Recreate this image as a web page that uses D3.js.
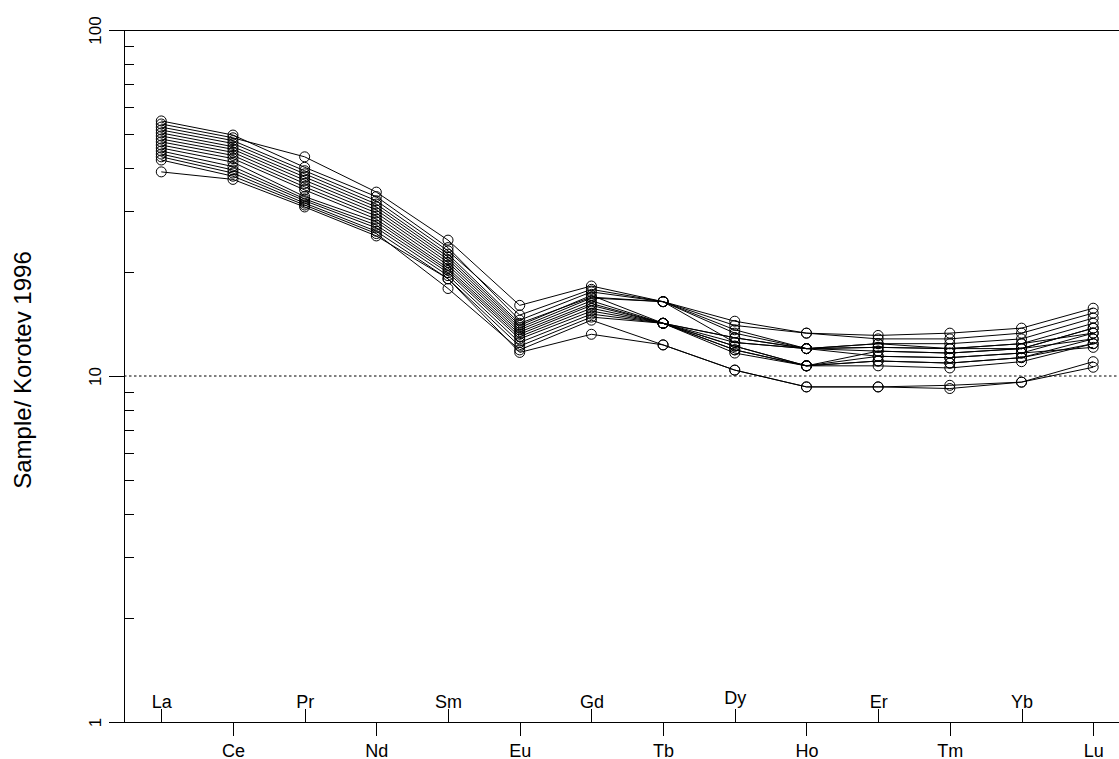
<!DOCTYPE html>
<html>
<head>
<meta charset="utf-8">
<script src="https://cdn.jsdelivr.net/npm/d3@7"></script>
<style>
    body { margin: 0; background: #fff; }
    text { font-family: "Liberation Sans", Arial, sans-serif; fill: #000; }
</style>
</head>
<body>
<div id="chart"></div>
<script>
// REE elements along the x axis
const ree = ['La', 'Ce', 'Pr', 'Nd', 'Sm', 'Eu', 'Gd', 'Tb', 'Dy', 'Ho', 'Er', 'Tm', 'Yb', 'Lu'];

// normalised values, one row per sample
const samples = [
    [54.6, 49.7, 40.1, 33.0, 23.5, 14.5, 17.5, 16.4, 14.4, 13.3, 13.1, 13.3, 13.75, 15.7],
    [53.5, 48.8, 43.0, 34.0, 24.7, 16.0, 18.2, 16.4, 14.0, 13.3, 12.8, 12.8, 13.3, 15.2],
    [52.4, 47.9, 39.2, 32.1, 23.0, 15.0, 17.8, 16.4, 13.6, 12.0, 12.4, 12.4, 12.8, 14.7],
    [51.4, 47.0, 38.4, 31.4, 22.5, 14.2, 16.9, 16.4, 13.3, 12.0, 12.1, 12.0, 12.4, 14.2],
    [50.4, 46.0, 37.6, 30.8, 22.1, 14.0, 17.1, 14.2, 12.9, 12.0, 11.8, 11.65, 12.0, 13.75],
    [49.4, 45.2, 36.8, 30.2, 21.7, 13.8, 16.8, 16.4, 12.5, 12.0, 11.4, 11.3, 11.65, 13.3],
    [48.4, 44.3, 36.0, 29.6, 21.3, 13.6, 16.5, 14.2, 12.2, 10.7, 11.05, 10.9, 11.3, 12.8],
    [47.5, 43.4, 35.2, 29.0, 20.9, 13.4, 16.2, 14.2, 11.9, 10.7, 10.7, 10.55, 11.0, 12.4],
    [46.5, 42.5, 34.5, 28.4, 20.5, 13.2, 16.0, 14.2, 11.65, 10.7, 11.4, 11.3, 11.65, 12.1],
    [45.6, 41.5, 33.0, 27.9, 20.2, 13.0, 15.7, 14.2, 12.5, 12.0, 12.4, 12.0, 12.4, 13.3],
    [44.7, 40.3, 32.5, 27.3, 19.9, 12.8, 15.4, 14.2, 12.2, 10.7, 11.8, 11.65, 12.0, 12.8],
    [43.8, 39.4, 32.1, 26.8, 19.5, 12.5, 15.1, 14.2, 11.9, 10.7, 11.05, 10.9, 11.3, 12.4],
    [43.0, 38.6, 31.6, 26.2, 19.1, 12.2, 14.8, 14.2, 12.9, 12.0, 12.1, 12.0, 12.0, 13.75],
    [42.1, 37.8, 31.2, 25.8, 17.9, 11.9, 14.5, 12.3, 10.4, 9.3, 9.3, 9.4, 9.6, 11.0],
    [38.9, 37.0, 30.8, 25.4, 19.1, 11.7, 13.2, 12.3, 10.4, 9.3, 9.3, 9.2, 9.6, 10.6]
];

const yMajor = [1, 10, 100];
const yMinor = [2, 3, 4, 5, 6, 7, 8, 9, 20, 30, 40, 50, 60, 70, 80, 90];
const refLine = 10;
const yTitle = 'Sample/ Korotev 1996';

const width = 1119,
    height = 759,
    mLeft = 124,
    mTop = 30,
    mBottom = 722;

const svg = d3.select('#chart')
    .append('svg')
    .attr('width', width)
    .attr('height', height);

const xScale = d3.scaleLinear()
    .domain([-0.52, 13.36])
    .range([mLeft, width]);

const yScale = d3.scaleLog()
    .domain([1, 100])
    .range([mBottom, mTop]);

// dotted reference line at 10
svg.append('line')
    .attr('x1', mLeft).attr('x2', width)
    .attr('y1', yScale(refLine)).attr('y2', yScale(refLine))
    .attr('stroke', '#000')
    .attr('stroke-dasharray', '2.5,2.5');

// top frame line
svg.append('line')
    .attr('x1', mLeft).attr('x2', width)
    .attr('y1', yScale(100)).attr('y2', yScale(100))
    .attr('stroke', '#000')
    .attr('shape-rendering', 'crispEdges');

// y axis: major ticks outside, minor inside
const yAxisG = svg.append('g')
    .attr('transform', 'translate(' + mLeft + ',0)')
    .call(d3.axisLeft(yScale).tickValues(yMajor).tickSize(15).tickSizeOuter(0).tickFormat(d3.format('d')));
yAxisG.selectAll('text')
    .attr('font-size', 17)
    .attr('text-anchor', 'middle')
    .attr('dy', null)
    .attr('x', null)
    .attr('transform', 'translate(-23,0) rotate(-90)');

svg.append('g')
    .attr('transform', 'translate(' + mLeft + ',0)')
    .call(d3.axisRight(yScale).tickValues(yMinor).tickSize(10).tickSizeOuter(0).tickFormat(''))
    .select('.domain').remove();

// x axis: alternating labels above and below
const evenIdx = d3.range(0, ree.length, 2),
    oddIdx = d3.range(1, ree.length, 2);

const xTopG = svg.append('g')
    .attr('transform', 'translate(0,' + mBottom + ')')
    .call(d3.axisTop(xScale).tickValues(evenIdx).tickSize(13).tickPadding(1).tickSizeOuter(0)
        .tickFormat(i => ree[i]));
xTopG.selectAll('text')
    .attr('font-size', 18)
    .attr('y', d => /[gjpqy]/.test(ree[d]) ? -18 : -14);

const xBotG = svg.append('g')
    .attr('transform', 'translate(0,' + mBottom + ')')
    .call(d3.axisBottom(xScale).tickValues(oddIdx).tickSize(14).tickPadding(8).tickSizeOuter(0)
        .tickFormat(i => ree[i]));
xBotG.selectAll('text').attr('font-size', 18);

svg.selectAll('.domain, .tick line')
    .attr('stroke', '#000')
    .attr('shape-rendering', 'crispEdges');

// y title
svg.append('text')
    .attr('transform', 'translate(31,370) rotate(-90)')
    .attr('text-anchor', 'middle')
    .attr('font-size', 24)
    .text(yTitle);

// sample patterns
const line = d3.line()
    .x((d, i) => xScale(i))
    .y(d => yScale(d));

svg.selectAll('.sample')
    .data(samples)
    .enter()
    .append('path')
    .attr('class', 'sample')
    .attr('d', line)
    .attr('fill', 'none')
    .attr('stroke', '#000')
    .attr('stroke-width', 1);

svg.selectAll('.pts')
    .data(samples)
    .enter()
    .append('g')
    .attr('class', 'pts')
    .selectAll('circle')
    .data(d => d)
    .enter()
    .append('circle')
    .attr('cx', (d, i) => xScale(i))
    .attr('cy', d => yScale(d))
    .attr('r', 5)
    .attr('fill', 'none')
    .attr('stroke', '#000');
</script>
</body>
</html>
